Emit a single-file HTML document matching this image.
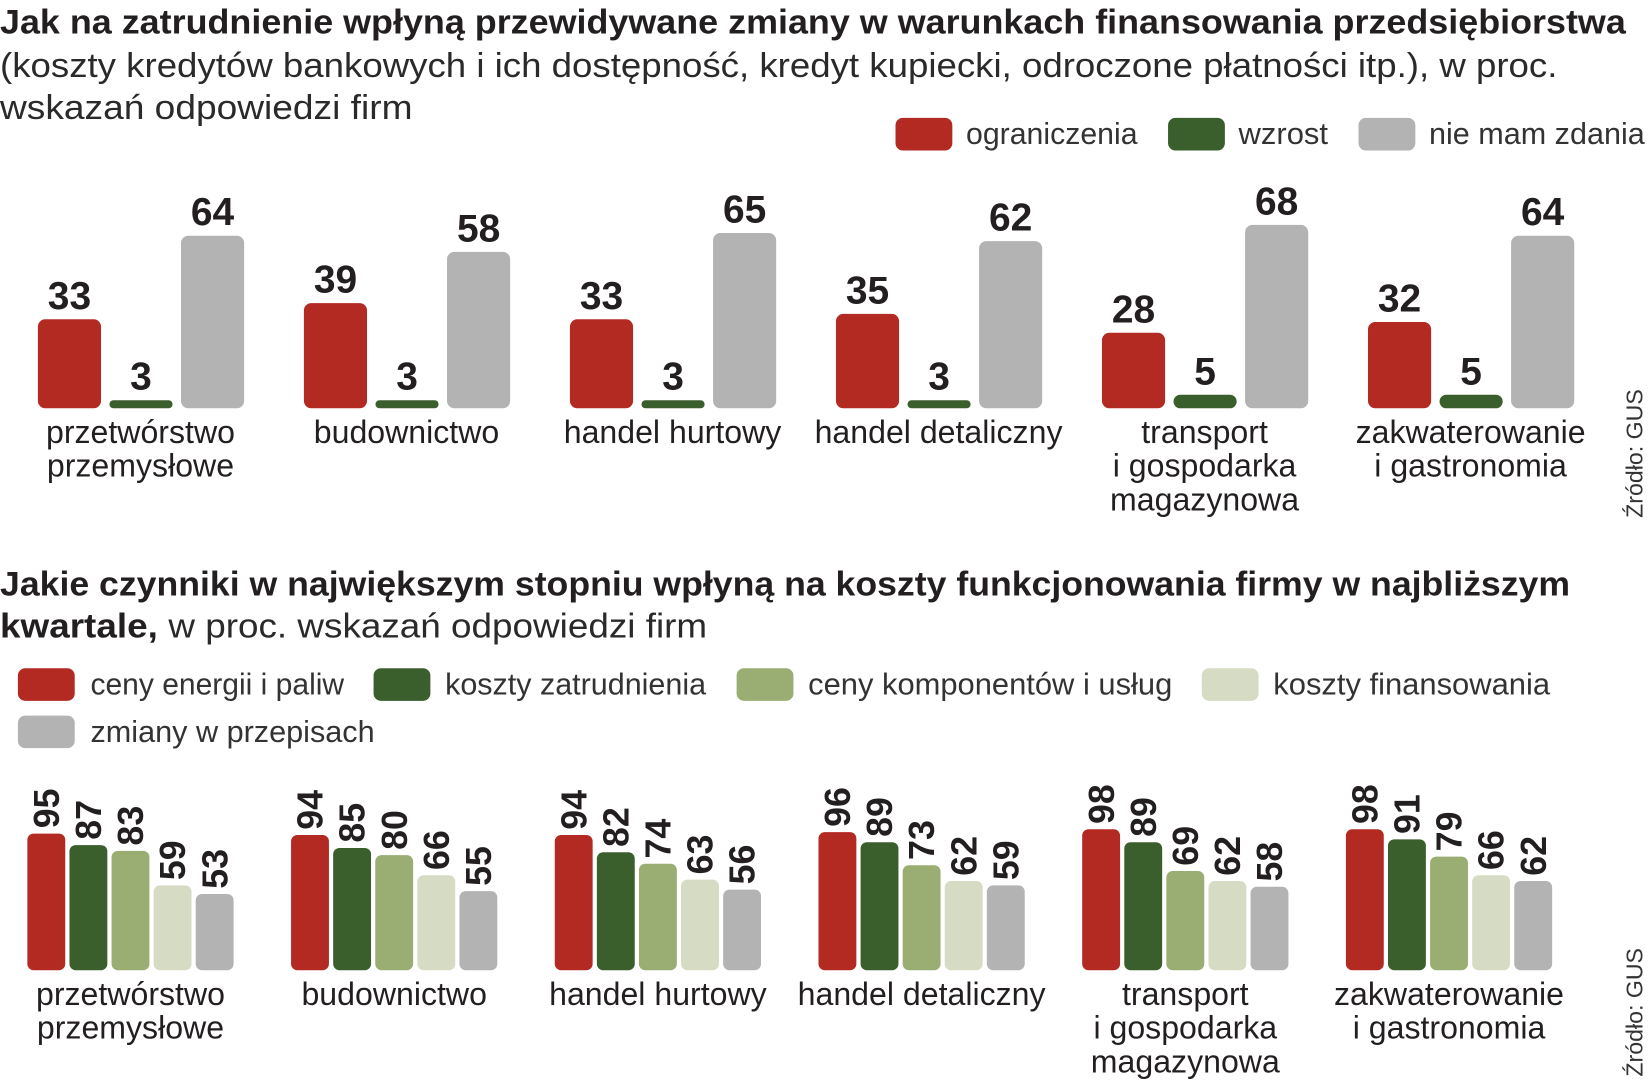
<!DOCTYPE html>
<html><head><meta charset="utf-8">
<style>
html,body{margin:0;padding:0;background:#fff;width:1650px;height:1080px;overflow:hidden}
#wrap{width:1568px;height:1027px;transform:scale(1.0523);transform-origin:0 0}
svg text{font-family:"Liberation Sans Narrow","Liberation Sans",sans-serif}
.t{font-weight:bold;font-size:33px;fill:#231f20}
.s{font-size:33px;fill:#2a2a2a;font-weight:300}
.lg{font-size:29px;fill:#333}
.cat{font-family:"Liberation Sans",sans-serif !important;font-size:30.5px;fill:#231f20}
.v{font-weight:bold;font-size:37px;fill:#231f20}
.v2{font-weight:bold;font-size:34px;fill:#231f20}
.src{font-size:22px;fill:#333}
</style></head><body>
<div id="wrap">
<svg id="svg" width="1568" height="1027" viewBox="0 0 1568 1027" xmlns="http://www.w3.org/2000/svg">
<text class="t" x="0" y="32" textLength="1545" lengthAdjust="spacingAndGlyphs">Jak na zatrudnienie wpłyną przewidywane zmiany w warunkach finansowania przedsiębiorstwa</text>
<text class="s" x="0" y="73" textLength="1480" lengthAdjust="spacingAndGlyphs">(koszty kredytów bankowych i ich dostępność, kredyt kupiecki, odroczone płatności itp.), w proc.</text>
<text class="s" x="0" y="113" textLength="392" lengthAdjust="spacingAndGlyphs">wskazań odpowiedzi firm</text>

<g>
<rect x="851" y="112" width="54" height="31" rx="7" fill="#b22a22"/>
<text class="lg" x="918" y="137" textLength="163" lengthAdjust="spacingAndGlyphs">ograniczenia</text>
<rect x="1110" y="112" width="54" height="31" rx="7" fill="#3a5e2c"/>
<text class="lg" x="1177" y="137" textLength="85" lengthAdjust="spacingAndGlyphs">wzrost</text>
<rect x="1291" y="112" width="54" height="31" rx="7" fill="#b3b3b4"/>
<text class="lg" x="1358" y="137" textLength="205" lengthAdjust="spacingAndGlyphs">nie mam zdania</text>
</g>
<text class="src" transform="translate(1561,431) rotate(-90)" text-anchor="middle">Źródło: GUS</text>

<text class="t" x="0" y="566" textLength="1492" lengthAdjust="spacingAndGlyphs">Jakie czynniki w największym stopniu wpłyną na koszty funkcjonowania firmy w najbliższym</text>
<text class="t" x="0" y="606" textLength="150" lengthAdjust="spacingAndGlyphs">kwartale,</text>
<text class="s" x="160" y="606" textLength="512" lengthAdjust="spacingAndGlyphs">w proc. wskazań odpowiedzi firm</text>

<g>
<rect x="17" y="635" width="54" height="31" rx="7" fill="#b22a22"/>
<text class="lg" x="86" y="660" textLength="241" lengthAdjust="spacingAndGlyphs">ceny energii i paliw</text>
<rect x="355" y="635" width="54" height="31" rx="7" fill="#3a5e2c"/>
<text class="lg" x="423" y="660" textLength="248" lengthAdjust="spacingAndGlyphs">koszty zatrudnienia</text>
<rect x="700" y="635" width="54" height="31" rx="7" fill="#9aad72"/>
<text class="lg" x="768" y="660" textLength="346" lengthAdjust="spacingAndGlyphs">ceny komponentów i usług</text>
<rect x="1142" y="635" width="54" height="31" rx="7" fill="#d6dcc4"/>
<text class="lg" x="1210" y="660" textLength="263" lengthAdjust="spacingAndGlyphs">koszty finansowania</text>
<rect x="17" y="680" width="54" height="31" rx="7" fill="#b3b3b4"/>
<text class="lg" x="86" y="705" textLength="270" lengthAdjust="spacingAndGlyphs">zmiany w przepisach</text>
</g>
<text class="src" transform="translate(1561,962) rotate(-90)" text-anchor="middle">Źródło: GUS</text>
<g id="c1"></g>
<g id="c2"></g>
</svg>
</div>
<script>
const categories = [["przetwórstwo","przemysłowe"],["budownictwo"],["handel hurtowy"],["handel detaliczny"],["transport","i gospodarka","magazynowa"],["zakwaterowanie","i gastronomia"]];
const ograniczenia = [33,39,33,35,28,32];
const wzrost = [3,3,3,3,5,5];
const nieMamZdania = [64,58,65,62,68,64];
const energia = [95,94,94,96,98,98];
const zatrudnienie = [87,85,82,89,89,91];
const komponenty = [83,80,74,73,69,79];
const finansowanie = [59,66,63,62,62,66];
const przepisy = [53,55,56,59,58,62];

const NS="http://www.w3.org/2000/svg";
function mk(tag,attrs,parent){const e=document.createElementNS(NS,tag);for(const k in attrs)e.setAttribute(k,attrs[k]);parent.appendChild(e);return e;}

const y1=v=>388-v*2.5625;
const x1=(g,s)=>36+g*252.8+s*68;
const c1=document.getElementById('c1');
const s1=[[ograniczenia,'#b22a22','ograniczenia'],[wzrost,'#3a5e2c','wzrost'],[nieMamZdania,'#b3b3b4','nie-mam-zdania']];
categories.forEach((cat,g)=>{
  s1.forEach(([arr,col,nm],s)=>{
    const v=arr[g];const top=y1(v);
    const r=mk('rect',{x:x1(g,s),y:top,width:60,height:388-top,rx:Math.min(7,(388-top)/2),fill:col},c1);
    
    
    const t=mk('text',{x:x1(g,s)+30,y:top-10,'text-anchor':'middle',class:'v'},c1);
    t.textContent=v;
    
    
  });
  const cx=x1(g,0)+97.5;
  cat.forEach((ln,i)=>{
    const t=mk('text',{x:cx,y:421+i*32,'text-anchor':'middle',class:'cat'},c1);
    t.textContent=ln;
    
    
  });
});

const y2=v=>922-v*1.367;
const x2=(g,s)=>26+g*250.6+s*40;
const c2=document.getElementById('c2');
const s2=[[energia,'#b22a22','energia'],[zatrudnienie,'#3a5e2c','zatrudnienie'],[komponenty,'#9aad72','komponenty'],[finansowanie,'#d6dcc4','finansowanie'],[przepisy,'#b3b3b4','przepisy']];
categories.forEach((cat,g)=>{
  s2.forEach(([arr,col,nm],s)=>{
    const v=arr[g];const top=y2(v);
    const r=mk('rect',{x:x2(g,s),y:top,width:36,height:922-top,rx:6,fill:col},c2);
    
    
    const t=mk('text',{transform:'translate('+(x2(g,s)+30)+','+(top-5)+') rotate(-90)',class:'v2'},c2);
    t.textContent=v;
    
    
  });
  const cx=x2(g,0)+98;
  cat.forEach((ln,i)=>{
    const t=mk('text',{x:cx,y:955+i*32,'text-anchor':'middle',class:'cat'},c2);
    t.textContent=ln;
    
    
  });
});
</script>
</body></html>
